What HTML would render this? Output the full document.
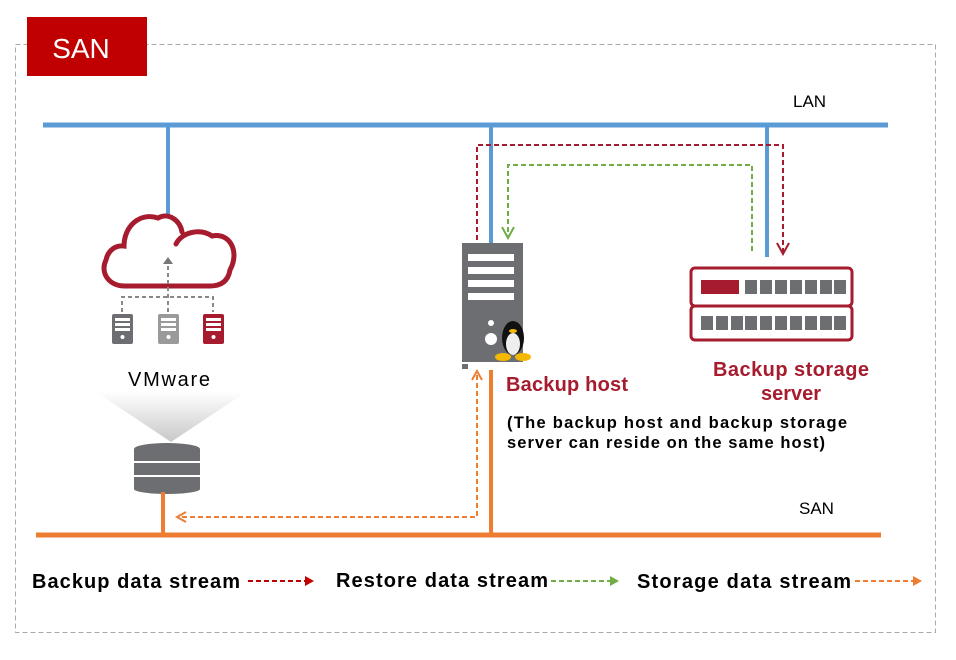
<!DOCTYPE html>
<html><head><meta charset="utf-8"><style>
body{margin:0;background:#fff;width:956px;height:655px;overflow:hidden;font-family:"Liberation Sans",sans-serif}
</style></head><body>
<svg width="956" height="655" viewBox="0 0 956 655" xmlns="http://www.w3.org/2000/svg" font-family="Liberation Sans, sans-serif">
<defs>
<linearGradient id="g" x1="0" y1="0" x2="0" y2="1"><stop offset="0" stop-color="#fff"/><stop offset="1" stop-color="#c8c8c8"/></linearGradient>
</defs>
<rect x="15.5" y="44.5" width="920" height="588" fill="none" stroke="#aaa" stroke-dasharray="5,3"/>
<rect x="27" y="17" width="120" height="59" fill="#c00000"/>
<text x="81" y="58" font-size="28" fill="#fff" text-anchor="middle">SAN</text>
<line x1="43" y1="125" x2="888" y2="125" stroke="#5b9bd5" stroke-width="5"/>
<text x="793" y="107" font-size="17">LAN</text>
<line x1="168" y1="125" x2="168" y2="216" stroke="#5b9bd5" stroke-width="4"/>
<line x1="491" y1="125" x2="491" y2="245" stroke="#5b9bd5" stroke-width="4"/>
<line x1="767" y1="125" x2="767" y2="257" stroke="#5b9bd5" stroke-width="4"/>
<polyline points="477,240 477,145 783,145 783,252" fill="none" stroke="#a61c2e" stroke-width="2" stroke-dasharray="5,3"/>
<polyline points="777,243 783,254 789,243" fill="none" stroke="#a61c2e" stroke-width="2"/>
<polyline points="752,251 752,165 508,165 508,236" fill="none" stroke="#70ad47" stroke-width="2" stroke-dasharray="5,3"/>
<polyline points="502,227 508,238 514,227" fill="none" stroke="#70ad47" stroke-width="2"/>
<rect x="462" y="243" width="61" height="119" fill="#6d6e71"/>
<rect x="468" y="254" width="46" height="7" fill="#fff"/>
<rect x="468" y="267" width="46" height="7" fill="#fff"/>
<rect x="468" y="280" width="46" height="7" fill="#fff"/>
<rect x="468" y="293" width="46" height="7" fill="#fff"/>
<circle cx="491" cy="323" r="3" fill="#fff"/>
<circle cx="491" cy="339" r="6" fill="#fff"/>
<rect x="462" y="364" width="6" height="5" fill="#6d6e71"/>
<ellipse cx="513" cy="338" rx="11" ry="17" fill="#111"/>
<ellipse cx="513" cy="344" rx="7" ry="11" fill="#eee"/>
<ellipse cx="513" cy="331" rx="4" ry="2" fill="#f5b800"/>
<ellipse cx="503" cy="357" rx="8" ry="4" fill="#f5b800"/>
<ellipse cx="523" cy="357" rx="8" ry="4" fill="#f5b800"/>
<rect x="691" y="268" width="161" height="38" rx="4" fill="#fff" stroke="#a61c2e" stroke-width="3"/>
<rect x="691" y="306" width="161" height="34" rx="4" fill="#fff" stroke="#a61c2e" stroke-width="3"/>
<rect x="701" y="280" width="38" height="14" fill="#a61c2e"/>
<g fill="#6d6e71">
<rect x="745" y="280" width="12" height="14"/><rect x="760" y="280" width="12" height="14"/><rect x="775" y="280" width="12" height="14"/><rect x="790" y="280" width="12" height="14"/><rect x="805" y="280" width="12" height="14"/><rect x="820" y="280" width="12" height="14"/><rect x="834" y="280" width="12" height="14"/>
<rect x="701" y="316" width="12" height="14"/><rect x="716" y="316" width="12" height="14"/><rect x="731" y="316" width="12" height="14"/><rect x="745" y="316" width="12" height="14"/><rect x="760" y="316" width="12" height="14"/><rect x="775" y="316" width="12" height="14"/><rect x="790" y="316" width="12" height="14"/><rect x="805" y="316" width="12" height="14"/><rect x="820" y="316" width="12" height="14"/><rect x="834" y="316" width="12" height="14"/>
</g>
<text x="713" y="376" font-size="20" font-weight="bold" fill="#a61c2e" textLength="156">Backup storage</text>
<text x="791" y="400" font-size="20" font-weight="bold" fill="#a61c2e" text-anchor="middle">server</text>
<text x="506" y="391" font-size="20" font-weight="bold" fill="#a61c2e" textLength="122">Backup host</text>
<text x="507" y="428" font-size="16.5" font-weight="bold" textLength="340">(The backup host and backup storage</text>
<text x="507" y="448" font-size="16.5" font-weight="bold" textLength="318">server can reside on the same host)</text>
<path d="M176,244 C182,232 200,228 212,236 C230,232 240,252 230,270 C228,282 220,286 210,286 L125,286 C108,286 100,272 106,260 C108,250 116,245 124,246 C124,226 140,212 158,218 C168,212 180,220 182,232" fill="none" stroke="#a61c2e" stroke-width="5" stroke-linecap="round"/>
<g stroke="#888" stroke-width="2" stroke-dasharray="4,3" fill="none">
<line x1="168" y1="266" x2="168" y2="313"/>
<polyline points="122,312 122,297 213,297 213,312"/>
</g>
<polygon points="163,264 168,257 173,264" fill="#777"/>
<rect x="112" y="314" width="21" height="30" rx="2" fill="#6d6e71"/>
<rect x="158" y="314" width="21" height="30" rx="2" fill="#9a9a9a"/>
<rect x="203" y="314" width="21" height="30" rx="2" fill="#a61c2e"/>
<g fill="#fff">
<rect x="115" y="318" width="15" height="3"/><rect x="115" y="323" width="15" height="3"/><rect x="115" y="328" width="15" height="3"/><circle cx="122.5" cy="337" r="2"/>
<rect x="161" y="318" width="15" height="3"/><rect x="161" y="323" width="15" height="3"/><rect x="161" y="328" width="15" height="3"/><circle cx="168.5" cy="337" r="2"/>
<rect x="206" y="318" width="15" height="3"/><rect x="206" y="323" width="15" height="3"/><rect x="206" y="328" width="15" height="3"/><circle cx="213.5" cy="337" r="2"/>
</g>
<text x="128" y="386" font-size="20" textLength="82">VMware</text>
<polygon points="96,392 246,392 171,442" fill="url(#g)"/>
<g fill="#6d6e71">
<ellipse cx="167" cy="449" rx="33" ry="6"/>
<rect x="134" y="449" width="66" height="40"/>
<ellipse cx="167" cy="489" rx="33" ry="5"/>
</g>
<line x1="134" y1="462" x2="200" y2="462" stroke="#fff" stroke-width="2"/>
<line x1="134" y1="476" x2="200" y2="476" stroke="#fff" stroke-width="2"/>
<line x1="36" y1="535" x2="881" y2="535" stroke="#ed7d31" stroke-width="5"/>
<text x="799" y="514" font-size="17">SAN</text>
<line x1="163" y1="492" x2="163" y2="535" stroke="#ed7d31" stroke-width="4"/>
<line x1="491" y1="370" x2="491" y2="535" stroke="#ed7d31" stroke-width="4"/>
<polyline points="477,375 477,517 178,517" fill="none" stroke="#ed7d31" stroke-width="2" stroke-dasharray="5,3"/>
<polyline points="472,380 477,371 482,380" fill="none" stroke="#ed7d31" stroke-width="2"/>
<polyline points="186,512 177,517 186,522" fill="none" stroke="#ed7d31" stroke-width="2"/>
<text x="32" y="588" font-size="20" font-weight="bold" textLength="208">Backup data stream</text>
<line x1="248" y1="581" x2="306" y2="581" stroke="#c00000" stroke-width="2" stroke-dasharray="5,3"/>
<polygon points="305,576 314,581 305,586" fill="#c00000"/>
<text x="336" y="587" font-size="20" font-weight="bold" textLength="212">Restore data stream</text>
<line x1="551" y1="581" x2="611" y2="581" stroke="#70ad47" stroke-width="2" stroke-dasharray="5,3"/>
<polygon points="610,576 619,581 610,586" fill="#70ad47"/>
<text x="637" y="588" font-size="20" font-weight="bold" textLength="214">Storage data stream</text>
<line x1="855" y1="581" x2="914" y2="581" stroke="#ed7d31" stroke-width="2" stroke-dasharray="5,3"/>
<polygon points="913,576 922,581 913,586" fill="#ed7d31"/>
</svg>
</body></html>
